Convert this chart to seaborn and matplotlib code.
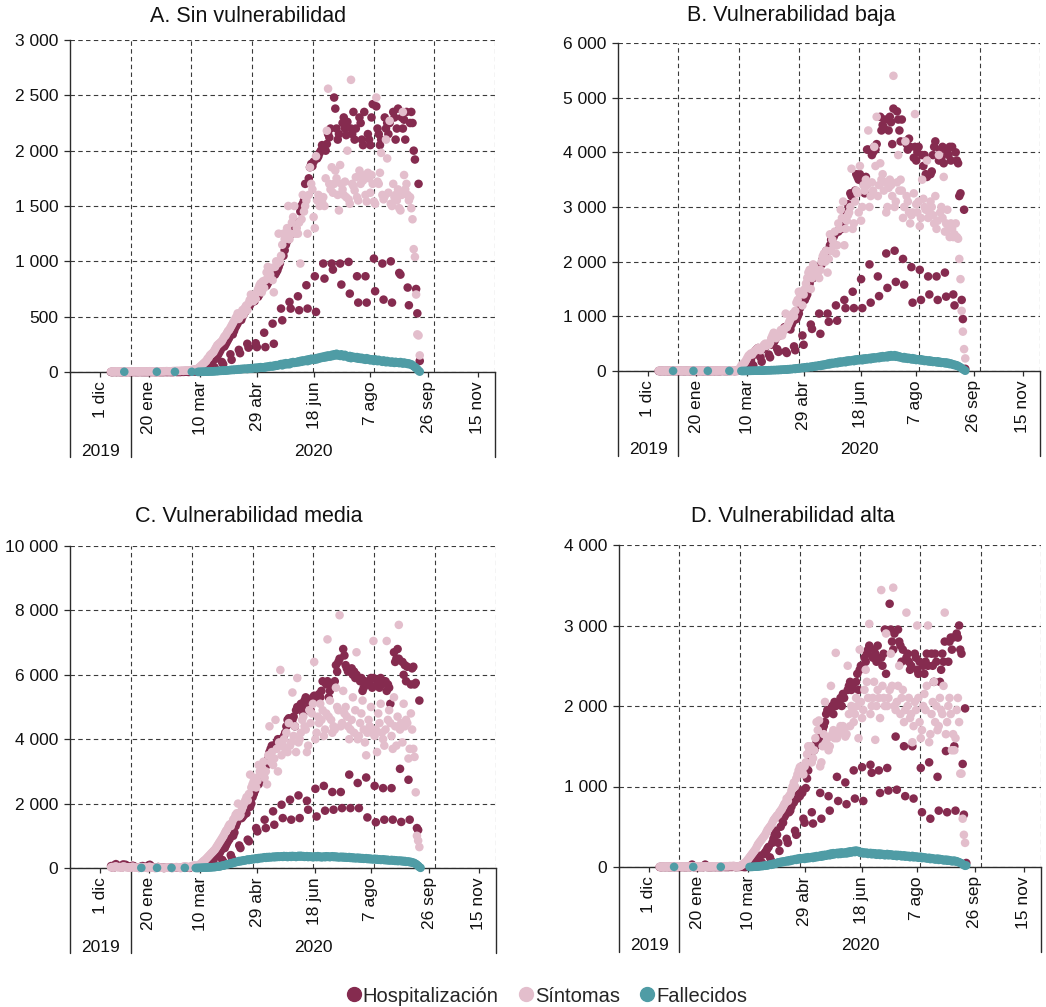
import numpy as np
import pandas as pd
import matplotlib
matplotlib.use("Agg")
import matplotlib.pyplot as plt
from matplotlib.lines import Line2D
from matplotlib.ticker import FuncFormatter
import seaborn as sns

nan = float("nan")

SERIES = ["Hospitalización", "Síntomas", "Fallecidos"]
COLORS = ["#852B4F", "#E3BECC", "#4F9CA5"]
TITLES = ["A. Sin vulnerabilidad", "B. Vulnerabilidad baja",
          "C. Vulnerabilidad media", "D. Vulnerabilidad alta"]
Y_MAX = [3000, 6000, 10000, 4000]
Y_STEP = [500, 1000, 2000, 1000]
TICK_LABELS = ["1 dic", "20 ene", "10 mar", "29 abr", "18 jun", "7 ago", "26 sep", "15 nov"]
YEAR_LABELS = ["2019", "2020"]

# daily values, one row per week (Fri..Thu)
HOSP_A = [
    [0,0,0,1,0,0,1],[0,0,0,0,1,0,0],[1,0,0,0,0,1,0],[0,0,0,1,0,0,0],[0,0,0,0,0,1,0],
    [1,0,0,0,1,0,0],[0,0,0,1,0,0,1],[0,0,0,0,2,1,0],[1,0,1,2,1,2,3],[3,1,1,4,5,6,8],
    [5,3,2,10,15,20,25],[40,20,15,50,60,70,80],[100,50,40,120,140,160,180],
    [200,90,70,230,250,270,290],[310,160,110,340,370,400,420],[440,200,170,470,500,520,540],
    [560,255,220,600,620,640,660],[640,260,225,680,700,720,740],[760,355,225,780,800,820,840],
    [860,437,255,880,900,920,950],[980,573,467,1050,1100,1150,1180],
    [1200,633,573,1250,1270,1280,1300],[1350,684,558,1450,1500,1520,1550],
    [1700,784,573,1750,1850,1880,1860],[1900,865,543,1930,1950,1980,2000],
    [2050,980,844,2000,2060,2150,2120],[2200,980,925,2480,2380,2200,2100],
    [2150,980,790,2250,2300,2200,2140],[2260,995,708,2200,2150,2350,2100],
    [2200,865,627,2300,2250,2100,2050],[2350,865,627,2150,2100,2050,2300],
    [2420,1025,730,2400,2200,2150,2050],[2100,980,654,2300,2200,2250,2150],
    [2250,1000,627,2350,2300,2100,2200],[2380,895,880,2300,2200,2280,2100],
    [2350,763,603,2250,2350,2250,2000],[1920,750,530,1700,100],
]
SINT_A = [
    [3,2,4,5,3,6,4],[5,3,2,4,6,5,3],[4,5,3,6,4,5,6],[5,4,3,5,6,4,5],[6,5,4,5,7,6,5],
    [5,6,4,7,6,5,6],[6,5,7,6,8,7,6],[7,6,8,9,8,10,9],[10,9,11,12,10,13,14],[15,12,14,16,18,20,22],
    [25,25,30,40,50,60,70],[80,90,100,120,130,150,160],[170,180,200,220,240,250,260],
    [270,280,300,320,330,350,370],[380,400,420,440,460,480,500],[530,480,500,540,560,520,580],
    [600,560,620,650,700,680,640],[700,660,720,750,780,800,720],[820,760,830,900,950,850,880],
    [940,830,720,950,1000,980,1250],[1000,1050,1150,1250,1200,1250,1300],
    [1500,1200,1250,1350,1400,1500,1250],[1300,1250,1350,980,1380,1600,1450],
    [1500,1550,1250,1600,1850,1700,1650],[1400,1300,1950,1550,1600,1500,1550],
    [1540,1580,1500,1750,2180,2560,1700],[1650,1850,1620,1700,1820,1750,1600],
    [1460,1870,1700,1650,1600,1720,1580],[2000,1560,1520,2640,1700,1680,1640],
    [1760,1580,1550,1820,1700,1780,1730],[1760,1600,1540,1800,1750,1620,1780],
    [1700,1540,1520,2480,1720,1700,1800],[1980,1600,1560,1590,2100,1930,1620],
    [2270,1520,1500,1700,1580,1600,1550],[1650,1480,1460,1600,2350,1780,1650],
    [1700,1600,1550,1580,1480,1380,1110],[1040,700,340,330,150],
]
FALL_A = [
    [nan]*7,[nan,nan,nan,nan,2,nan,nan],[nan]*7,[nan]*7,[nan]*7,
    [nan,nan,nan,2,nan,nan,nan],[nan]*7,[nan,nan,nan,nan,2,nan,nan],[nan]*7,[nan,nan,nan,nan,2,nan,nan],
    [nan,nan,1,1,1,2,2],[2,3,3,4,4,5,5],[6,5,8,7,9,8,11],[10,13,11,14,12,16,15],
    [16,19,17,21,18,22,20],[23,26,22,28,25,30,27],[30,26,33,29,35,31,36],
    [35,39,33,41,37,44,40],[42,38,47,43,50,46,54],[53,49,58,54,62,57,64],
    [65,72,60,75,68,80,70],[78,70,85,80,90,82,88],[85,95,88,100,92,105,98],
    [100,110,98,115,105,120,112],[118,110,125,115,130,122,135],[128,140,130,145,135,150,140],
    [140,155,145,160,150,165,150],[155,145,160,150,140,155,145],[140,130,145,125,140,130,135],
    [125,135,120,130,118,128,115],[120,110,125,112,118,105,115],[110,100,115,105,98,110,100],
    [100,92,105,95,88,100,90],[92,85,95,88,82,92,84],[88,80,90,82,76,86,78],
    [80,72,78,68,70,60,52],[45,35,25,12,3],
]

HOSP_B = [
    [0,0,0,1,0,0,1],[0,0,0,0,1,0,0],[1,0,0,0,0,1,0],[0,0,0,1,0,0,0],[0,0,0,0,0,1,0],
    [1,0,0,0,1,0,0],[0,0,0,1,0,0,1],[0,0,0,0,2,1,0],[1,0,1,2,1,2,3],[0,1,2,3,5,8,10],
    [10,5,5,20,40,80,120],[200,120,100,300,380,400,420],[400,250,170,400,420,440,460],
    [480,300,250,480,500,520,560],[600,400,350,650,700,720,760],[800,360,330,780,820,760,850],
    [900,450,380,950,1000,1050,1150],[1250,650,480,1300,1350,1400,1500],
    [1600,850,770,1700,1750,1800,1850],[1900,1050,680,1950,2050,2100,2150],
    [2200,1050,900,2300,2400,2350,2450],[2500,1200,920,2550,2600,2650,2600],
    [2700,1300,1150,2900,3050,3000,3250],[3200,1450,1150,3300,3600,3550,3500],
    [3600,1680,1150,3500,3250,3550,4050],[4050,1950,1250,3950,4000,4100,4050],
    [4150,1730,1370,4650,4400,4500,4450],[4600,2150,1520,4400,4650,4550,4150],
    [4800,2200,1630,4750,4600,4400,4200],[4600,2050,1580,4200,4150,4050,4250],
    [4100,1900,1250,3900,4100,3850,4000],[4100,1850,1300,3950,3750,3950,3600],
    [3550,1730,1400,3600,3650,3950,4100],[4200,1730,1300,3850,4050,3900,4100],
    [3800,1800,1360,4000,3950,4100,3850],[4100,1400,1200,4000,3850,3800,3200],
    [3250,1300,950,2950,40],
]
SINT_B = [
    [3,2,4,5,3,6,4],[5,3,2,4,6,5,3],[4,5,3,6,4,5,6],[5,4,3,5,6,4,5],[6,5,4,5,7,6,5],
    [5,6,4,7,6,5,6],[6,5,7,6,8,7,6],[7,6,8,9,8,10,9],[10,9,11,12,10,13,14],[2,3,5,10,30,60,100],
    [120,140,160,200,240,280,300],[320,300,340,360,380,400,420],[400,380,420,450,480,500,460],
    [500,480,520,600,650,700,640],[600,620,680,700,750,650,720],[780,1050,800,850,900,950,1000],
    [1050,1000,1100,1250,1300,1450,1400],[1450,1200,1400,1500,1600,1700,1800],
    [1850,1500,1700,1950,1900,1800,1750],[1800,1700,1850,2000,2100,2150,2000],
    [2200,1800,2050,2500,2200,2400,2300],[2550,2150,2300,2700,2600,2950,2800],
    [3100,2300,2600,2750,2850,2900,3000],[3700,2600,2700,3100,3300,3250,2900],
    [3750,2750,3000,3400,3300,3500,3400],[4400,3000,3200,3450,3300,4100,3750],
    [4650,3200,3400,3800,3500,3600,3300],[3450,2900,3000,3350,3500,3400,3200],
    [5400,3000,3100,3450,3950,3300,3500],[3300,2800,3000,4200,3200,3100,2900],
    [2700,2850,2900,3250,4700,3050,2900],[3100,2650,2800,3500,3150,3000,2950],
    [3850,2800,2900,3100,3000,2850,2700],[3200,2600,2750,3950,2900,3000,2800],
    [3550,2550,2700,2950,2600,2450,2700],[2600,2450,2500,2700,2450,2420,2050],
    [1680,1100,720,400,230],
]
FALL_B = [
    [nan]*7,[nan,nan,nan,nan,nan,2,nan],[nan]*7,[nan]*7,[nan,2,nan,nan,nan,nan,nan],
    [nan,nan,nan,nan,nan,nan,2],[nan]*7,[nan]*7,[nan,nan,nan,2,nan,nan,nan],[nan,nan,nan,nan,nan,nan,0],
    [0,0,1,1,2,2,3],[3,4,4,5,5,6,6],[7,9,6,10,8,12,11],[12,15,11,17,14,18,16],
    [17,21,16,24,19,26,23],[25,30,24,34,28,38,33],[38,44,36,50,42,55,48],
    [55,62,52,68,60,74,66],[72,80,70,88,78,95,86],[95,105,92,112,100,120,110],
    [122,135,118,145,128,150,138],[145,160,140,168,150,175,158],[165,180,160,190,172,195,178],
    [185,200,180,210,190,215,198],[200,220,196,228,205,232,212],[220,238,215,245,225,250,232],
    [238,255,235,265,245,272,250],[255,275,250,285,262,290,265],[270,290,260,280,255,268,245],
    [250,232,255,228,245,222,240],[228,212,235,208,225,200,215],[210,195,215,190,205,182,198],
    [190,175,195,170,185,165,178],[172,158,178,152,168,148,160],[155,140,158,135,148,125,138],
    [125,112,118,100,105,88,80],[65,50,35,18,5],
]

HOSP_C = [
    [60,20,10,90,120,80,60],[50,30,20,110,90,100,70],[40,20,10,60,70,50,30],[20,10,5,30,40,60,30],
    [30,10,5,80,100,60,20],[10,5,5,20,30,20,10],[10,5,0,20,10,15,10],[10,5,5,10,20,10,15],
    [15,5,5,20,25,30,20],[20,10,5,30,40,50,60],
    [20,10,5,60,80,100,120],[150,60,40,180,200,230,260],[300,120,90,350,380,420,480],
    [550,250,180,620,700,780,850],[900,400,300,1000,1100,1300,1400],
    [1500,700,620,1550,1600,1650,1700],[1700,880,830,1900,2000,2200,2300],
    [2400,1240,1137,2600,2700,2900,3000],[3100,1500,1240,3200,3400,3600,3700],
    [3800,1760,1344,3800,3900,4000,3950],[4000,1965,1550,4100,4200,4400,4600],
    [4650,2120,1500,4600,4700,4400,4900],[5000,2254,1550,5100,5000,4800,5200],
    [5300,2089,1810,5100,4900,5200,5300],[5350,2460,1600,5200,5400,5300,5500],
    [5800,2550,1780,5700,5800,5300,5500],[5700,2360,1810,5800,6300,6100,6400],
    [6500,2360,1860,6800,6600,6300,6200],[6100,2900,1860,6200,6000,6100,5900],
    [6000,2640,1860,5800,5900,5500,5600],[5800,2810,1570,5700,5800,5900,5600],
    [5900,2550,1420,5700,5800,5600,5900],[5700,2480,1500,5800,5500,5700,5600],
    [5100,2480,1500,6700,6400,6500,6800],[6500,3080,1430,6400,6000,6300,5800],
    [6250,2740,1500,5700,6200,6250,5700],[5750,1240,1180,5200,nan],
]
SINT_C = [
    [20,30,10,40,50,30,20],[30,20,10,50,40,30,20],[20,10,10,30,40,20,10],[10,10,5,20,30,20,10],
    [20,10,5,30,40,20,10],[10,5,5,20,20,10,10],[10,5,5,10,20,10,10],[10,5,5,20,20,30,20],
    [20,10,10,30,40,50,40],[40,20,20,50,60,70,80],
    [50,60,80,100,130,160,200],[230,260,300,340,380,420,460],[500,540,580,640,700,760,820],
    [880,940,1000,1080,1150,1200,1280],[1350,1300,1400,1500,1550,1650,1700],
    [2000,1600,1650,1800,1900,2000,2100],[2200,2100,2300,2900,2500,2600,2700],
    [2800,2500,2700,3200,3000,2900,3100],[3300,2800,3000,2600,3500,4400,3300],
    [3600,3200,3400,4600,3700,3000,3900],[6150,3500,3800,4000,3700,4200,3600],
    [4500,3800,3900,5450,4100,4400,3600],[5900,3900,4000,4200,4600,4700,4400],
    [4300,3600,3800,4900,4500,4800,5100],[6400,4000,4200,4700,4500,5100,4600],
    [4900,4100,4300,4800,7100,4700,5200],[4600,4200,4400,4300,5600,5000,4900],
    [7850,4400,4500,5500,4800,5000,4700],[4400,4000,4300,4600,5300,4200,4900],
    [6700,4000,4100,4500,4800,5200,4300],[3900,3500,4200,4600,4400,5000,4200],
    [7050,4100,4300,3600,4800,4500,5100],[4200,4000,3800,4300,7050,4600,4900],
    [4500,4100,3700,5300,4400,3800,4700],[7550,4300,4500,3900,5100,4400,4600],
    [4500,3400,3700,4800,4300,3700,3450],[2350,1000,850,650,nan],
]
FALL_C = [
    [nan]*7,[nan]*7,[nan]*7,[nan,nan,nan,nan,5,nan,nan],[nan]*7,
    [nan,nan,nan,5,nan,nan,nan],[nan]*7,[nan,5,nan,nan,nan,nan,nan],[nan,nan,nan,nan,nan,5,nan],[nan]*7,
    [0,1,2,4,5,7,9],[10,12,14,16,18,20,22],[25,30,28,38,40,48,50],
    [60,75,72,92,98,115,118],[130,148,140,165,168,185,188],[200,218,205,228,222,242,236],
    [250,265,248,272,262,285,272],[285,300,280,310,298,318,305],[320,335,315,340,322,345,330],
    [338,352,332,358,340,362,345],[350,365,345,372,352,368,340],[352,370,345,375,355,368,342],
    [360,378,352,380,355,370,345],[352,368,340,362,345,358,332],[345,362,338,368,342,358,330],
    [342,358,335,365,345,360,335],[350,365,340,360,335,352,328],[335,350,328,348,322,342,318],
    [325,340,312,332,305,325,300],[308,322,295,315,290,308,285],[290,305,278,298,272,290,268],
    [272,288,260,280,255,272,250],[255,270,245,262,238,255,232],[238,252,228,245,220,238,215],
    [220,232,210,225,200,218,192],[195,205,180,190,165,170,145],[130,100,70,30,5],
]

HOSP_D = [
    [0,0,0,1,0,0,1],[0,0,0,0,1,0,0],[1,0,0,0,0,1,0],[0,0,0,1,0,0,30],[0,0,0,0,0,1,0],
    [1,0,0,30,1,0,0],[0,0,0,1,0,0,1],[0,0,0,0,2,1,0],[1,0,1,2,1,2,3],[0,0,1,1,2,2,3],
    [0,0,0,5,10,15,20],[30,10,5,50,80,100,120],[140,60,40,160,180,200,230],
    [250,120,80,300,350,400,450],[400,300,200,500,600,550,620],[650,350,300,680,700,750,800],
    [800,450,400,850,900,880,950],[920,600,550,980,1100,1200,1300],
    [1350,680,540,1450,1500,1550,1520],[1600,920,600,1700,1750,1800,1900],
    [1950,880,700,1950,2000,1900,2050],[2000,1120,820,2050,2100,2000,2150],
    [2100,1050,780,2200,2250,2300,2200],[2250,1200,850,2300,2400,2200,2450],
    [2500,1240,820,2600,2550,2650,2700],[2750,1270,1170,2600,2700,2650,2550],
    [2750,1200,920,2600,2500,2650,2950],[2400,1230,950,3270,2950,2800,2700],
    [2900,1620,960,2950,2800,2750,2550],[2700,1500,880,2600,2650,2550,2450],
    [2500,1500,850,2650,2600,2450,2400],[2550,1230,680,2500,2400,2550,2650],
    [2500,1300,600,2650,2500,2300,2650],[2550,1120,700,2300,2450,2650,2550],
    [2800,1440,680,2550,2800,2850,2700],[2850,1500,700,2900,2850,3000,2700],
    [2650,1280,650,1970,50],
]
SINT_D = [
    [3,2,4,5,3,6,4],[5,3,2,4,6,5,3],[4,5,3,6,4,5,6],[5,4,3,5,6,4,5],[6,5,4,5,7,6,5],
    [5,6,4,7,6,5,6],[6,5,7,6,8,7,6],[7,6,8,9,8,10,9],[10,9,11,12,10,13,14],[2,3,5,8,10,20,30],
    [40,50,60,80,100,120,140],[160,180,200,220,250,280,300],[320,340,360,380,400,430,460],
    [480,500,520,550,580,600,620],[640,650,680,700,720,750,780],[800,850,820,880,900,950,1000],
    [1050,1000,1100,1150,1200,1240,1250],[1200,1150,1250,1300,1400,1500,1450],
    [1500,1300,1350,1450,1600,1800,1700],[1820,1250,1300,1500,1650,2050,1550],
    [1600,1450,1500,2250,1650,1700,1600],[2660,1600,1650,1700,1750,1680,1750],
    [1700,1620,1650,2500,1900,1750,2000],[1950,1800,1900,2100,2000,1600,2700],
    [2050,1850,1950,2200,2450,2300,2100],[3020,1900,2000,2100,2300,1580,2000],
    [2200,2100,1850,3440,2250,2100,2000],[2900,2000,2100,2200,2650,2250,3470],
    [2000,1950,2050,2250,2500,1900,2100],[2200,1800,1950,3160,2000,2100,1850],
    [1900,1550,1750,2050,1950,3000,2100],[1800,1600,1700,2000,2150,1950,2250],
    [3000,1550,1650,1900,2050,2300,1800],[2000,1700,1750,2100,1950,1900,2250],
    [3160,1650,1800,2000,2100,1900,1450],[1650,1450,1600,1950,2100,1800,1160],
    [1160,600,400,300,nan],
]
FALL_D = [
    [nan]*7,[nan,nan,nan,nan,nan,2,nan],[nan]*7,[nan]*7,[2,nan,nan,nan,nan,nan,nan],
    [nan]*7,[nan]*7,[nan,nan,2,nan,nan,nan,nan],[nan]*7,[nan]*7,
    [nan,nan,nan,nan,nan,0,1],[1,2,3,4,5,6,8],[10,13,11,17,15,21,19],
    [25,31,27,37,33,45,41],[50,58,52,64,57,70,63],[70,78,68,84,74,90,82],
    [90,98,88,104,94,110,100],[105,112,100,118,106,122,110],[115,125,112,130,118,136,124],
    [132,142,128,148,135,152,140],[150,160,145,168,152,172,158],[165,175,160,178,162,182,168],
    [170,182,168,188,175,195,180],[188,200,185,205,190,198,180],[175,185,168,180,170,178,162],
    [165,175,158,172,160,170,152],[160,168,150,165,152,160,145],[155,162,145,158,148,155,140],
    [145,152,135,150,140,148,132],[138,145,128,140,130,138,122],[130,138,120,132,122,130,115],
    [122,128,110,122,112,118,105],[108,115,98,110,100,105,92],[98,105,88,100,90,95,82],
    [85,92,78,88,78,82,70],[75,80,68,72,62,60,50],[45,35,25,15,20],
]

PANELS = [(HOSP_A, SINT_A, FALL_A), (HOSP_B, SINT_B, FALL_B),
          (HOSP_C, SINT_C, FALL_C), (HOSP_D, SINT_D, FALL_D)]

# ---- layout (pixels of a 1046 x 1007 canvas) ----
W, H = 1046, 1007
AX_RECTS = [(70, 40, 425, 332), (618, 43, 422, 328), (70, 546, 426, 322), (619, 545, 422, 322)]
TITLE_POS = [(248, 16), (791, 16), (249, 517), (793, 516)]
XLIM = (-34.0, 318.4)
TICK_FRAC = [0.071, 0.185, 0.306, 0.440, 0.575, 0.706, 0.843, 0.959]
YEAR_SPLIT = 0.143
GRID_C = "#3a3a3a"
AX_C = "#2b2b2b"

sns.set_theme(style="white")
plt.rcParams["font.family"] = ["Liberation Sans", "DejaVu Sans"]

fig = plt.figure(figsize=(W / 100, H / 100), dpi=100)

def flat(rows, n):
    v = [x for r in rows for x in r]
    v = (v + [nan] * n)[:n]
    return np.array(v, dtype=float)

fmt = FuncFormatter(lambda v, p: f"{int(round(v)):,}".replace(",", " "))

for k, (series, rect, title, tpos) in enumerate(zip(PANELS, AX_RECTS, TITLES, TITLE_POS)):
    x0, y0, w, h = rect
    ax = fig.add_axes([x0 / W, 1 - (y0 + h) / H, w / W, h / H])
    n = max(sum(len(r) for r in s) for s in series)
    frames = []
    for name, arr in zip(SERIES, series):
        frames.append(pd.DataFrame({"dia": np.arange(n), "valor": flat(arr, n), "serie": name}))
    df = pd.concat(frames, ignore_index=True).dropna()
    sns.scatterplot(data=df, x="dia", y="valor", hue="serie", hue_order=SERIES,
                    palette=COLORS, s=38, linewidth=0, alpha=1, legend=False,
                    ax=ax, zorder=3, clip_on=False)

    span = XLIM[1] - XLIM[0]
    ax.set_xlim(*XLIM)
    ax.set_ylim(0, Y_MAX[k])
    ax.set_xticks([XLIM[0] + f * span for f in TICK_FRAC])
    ax.set_xticklabels(TICK_LABELS, rotation=90, fontsize=12.5, color="#111111")
    ax.set_xticks([XLIM[0] + j / 7 * span for j in range(1, 8)], minor=True)
    ax.set_yticks(np.arange(0, Y_MAX[k] + 1, Y_STEP[k]))
    ax.yaxis.set_major_formatter(fmt)
    ax.tick_params(axis="y", labelsize=12.5, labelcolor="#111111", length=4, width=0.9,
                   color=AX_C, direction="out", pad=4.5, left=True)
    ax.tick_params(axis="x", which="major", length=3.6, width=0.9, color=AX_C,
                   direction="out", pad=3, bottom=True)
    ax.tick_params(axis="x", which="minor", length=0)
    ax.set_xlabel("")
    ax.set_ylabel("")
    ax.grid(False)
    ax.grid(True, which="minor", axis="x", color=GRID_C, linestyle=(0, (4, 3)), linewidth=0.8)
    ax.grid(True, which="major", axis="y", color=GRID_C, linestyle=(0, (4, 3)), linewidth=0.8)
    ax.set_axisbelow(True)
    for side in ("top", "right"):
        ax.spines[side].set_visible(False)
    for side in ("left", "bottom"):
        ax.spines[side].set_color(AX_C)
        ax.spines[side].set_linewidth(1.0)

    # year band below the date labels
    sep = 85 / h
    for f in (0.0, YEAR_SPLIT, 1.0):
        ax.plot([f, f], [0, -sep], transform=ax.transAxes, clip_on=False,
                color=AX_C, linewidth=1.0)
    ax.text(YEAR_SPLIT / 2, -79 / h, YEAR_LABELS[0], transform=ax.transAxes,
            ha="center", va="center", fontsize=12.5, color="#111111")
    ax.text((YEAR_SPLIT + 1) / 2, -79 / h, YEAR_LABELS[1], transform=ax.transAxes,
            ha="center", va="center", fontsize=12.5, color="#111111")

    fig.text(tpos[0] / W, 1 - tpos[1] / H, title, ha="center", va="center",
             fontsize=15.5, color="#111111")

handles = [Line2D([], [], marker="o", linestyle="", color=c, markersize=10) for c in COLORS]
fig.legend(handles, SERIES, loc="center", bbox_to_anchor=(547 / W, 1 - 996 / H), ncol=3,
           frameon=False, handletextpad=0.1, columnspacing=1.0, handlelength=0.7,
           fontsize=14.5, borderaxespad=0)

fig.savefig("out.png", dpi=100)
